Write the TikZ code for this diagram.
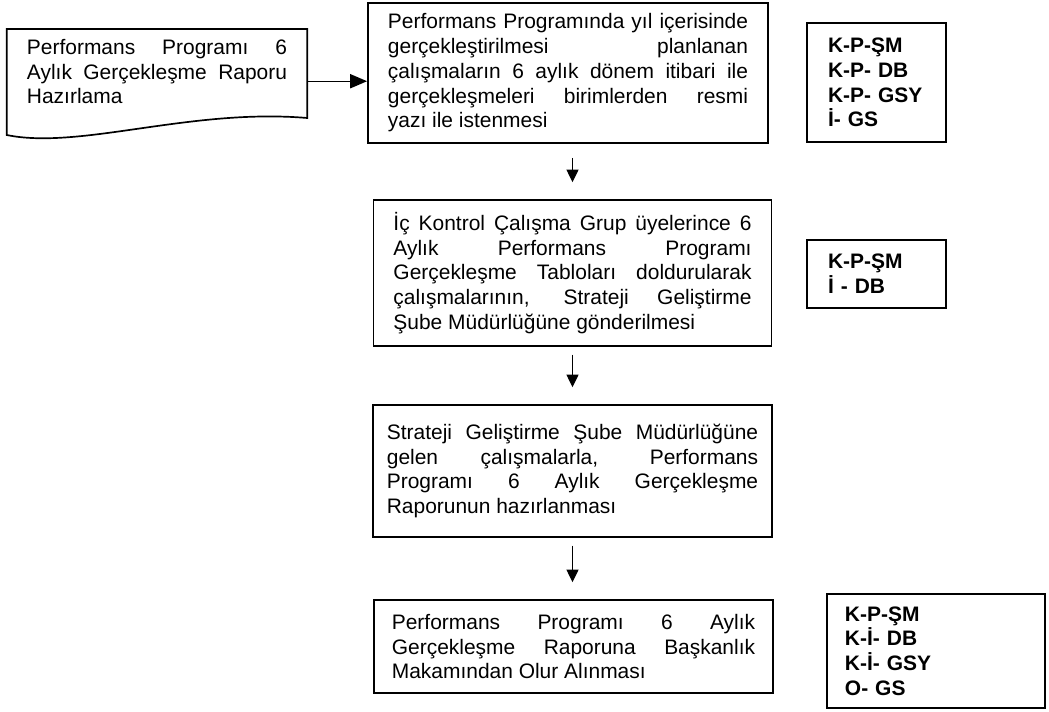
\documentclass[tikz,border=0pt]{standalone}
\usepackage{fontspec}
\setmainfont{Liberation Sans}
\usetikzlibrary{arrows.meta}
\hyphenpenalty=10000
\exhyphenpenalty=10000

\begin{document}
\begin{tikzpicture}[
    x=0.025cm,y=-0.025cm,
    font=\fontsize{14.9}{17.6}\selectfont,
    act/.style={draw,line width=1.2pt,align=justify,inner ysep=0.2cm},
    role/.style={draw,line width=1.2pt,align=left,font=\fontsize{14.9}{17.6}\selectfont\bfseries},
    arr/.style={-{Triangle[length=9pt,width=8.5pt]},line width=1pt,shorten <=5.5pt,shorten >=12pt},
    harr/.style={-{Triangle[length=12pt,width=10pt]},line width=1pt}
  ]
    \useasboundingbox (0,0) rectangle (1049,711);

    % report document (wavy bottom)
    \node[align=justify,text width=6.5cm,inner xsep=0.5cm,inner ysep=0.25cm,anchor=north] (prep) at (157,29)
      {Performans Programı 6\linebreak Aylık Gerçekleşme Raporu\linebreak Hazırlama};
    \draw[line width=1.2pt] (prep.north west) -- (prep.north east) -- ++(0,89)
      .. controls +(-117,-10) and +(73,15) .. ([shift={(0,106)}]prep.north west) -- cycle;

    % process steps
    \node[act,text width=9cm,inner xsep=0.5cm,minimum height=3.5cm] (req) at (568,73)
      {Performans Programında yıl içerisinde\linebreak gerçekleştirilmesi planlanan\linebreak çalışmaların 6 aylık dönem itibari ile\linebreak gerçekleşmeleri birimlerden resmi\linebreak yazı ile istenmesi};
    \node[act,text width=8.95cm,inner xsep=0.5cm,minimum height=3.65cm] (fill) at (572.5,273)
      {İç Kontrol Çalışma Grup üyelerince 6\linebreak Aylık Performans Programı\linebreak Gerçekleşme Tabloları doldurularak\linebreak çalışmalarının, Strateji Geliştirme\linebreak Şube Müdürlüğüne gönderilmesi};
    \node[act,text width=9.28cm,inner xsep=0.35cm,minimum height=3.3cm] (rep) at (572.5,471)
      {Strateji Geliştirme Şube Müdürlüğüne\linebreak gelen çalışmalarla, Performans\linebreak Programı 6 Aylık Gerçekleşme\linebreak Raporunun hazırlanması};
    \node[act,text width=9.08cm,inner xsep=0.45cm,minimum height=2.325cm] (appr) at (573.5,646.5)
      {Performans Programı 6 Aylık\linebreak Gerçekleşme Raporuna Başkanlık\linebreak Makamından Olur Alınması};

    % responsibility codes
    \node[role,text width=2.425cm,inner xsep=0.525cm,minimum height=2.975cm] (own1) at (876.5,82.5)
      {K-P-ŞM\\K-P- DB\\K-P- GSY\\İ- GS};
    \node[role,text width=2.425cm,inner xsep=0.525cm,minimum height=1.7cm] (own2) at (876.5,274)
      {K-P-ŞM\\İ - DB};
    \node[role,text width=4.55cm,inner xsep=0.45cm,minimum height=2.85cm] (own3) at (936,651)
      {K-P-ŞM\\K-İ- DB\\K-İ- GSY\\O- GS};

    \coordinate (prepout) at ([shift={(0,9.5)}]prep.east);
    \draw[harr] (prepout) -- (prepout -| req.west);
    \draw[arr,shorten <=10pt] (req.south -| fill.north) -- (fill.north);
    \draw[arr] (fill.south) -- (rep.north);
    \draw[arr] (rep.south) -- (rep.south |- appr.north);
  \end{tikzpicture}
\end{document}
